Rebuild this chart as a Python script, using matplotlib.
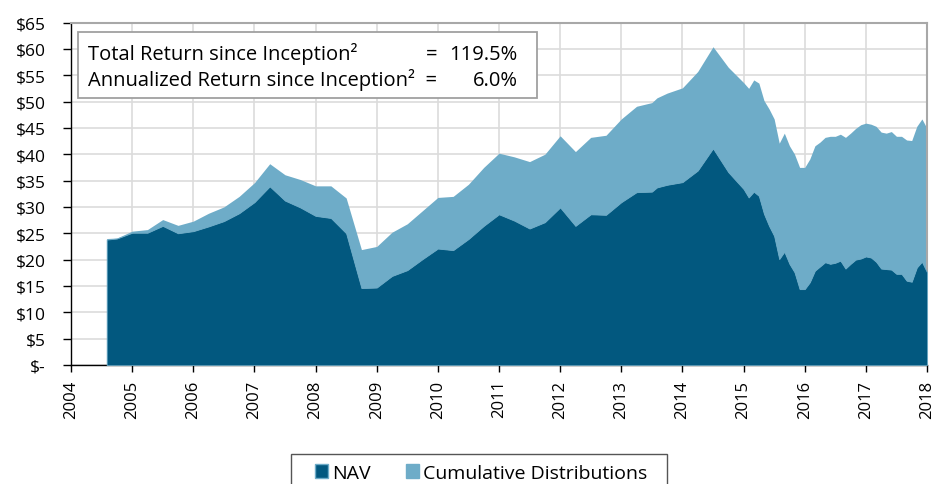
import numpy as np
import matplotlib.pyplot as plt
from matplotlib.patches import Patch, Rectangle

plt.rcParams['font.family'] = ['Open Sans', 'DejaVu Sans']

# month-end dates (YYYY-MM)
dates = ["2004-07", "2004-09", "2004-12",
         "2005-03", "2005-06", "2005-09", "2005-12",
         "2006-03", "2006-06", "2006-09", "2006-12",
         "2007-03", "2007-06", "2007-09", "2007-12",
         "2008-03", "2008-06", "2008-09", "2008-12",
         "2009-03", "2009-06", "2009-09", "2009-12",
         "2010-03", "2010-06", "2010-09", "2010-12",
         "2011-03", "2011-06", "2011-09", "2011-12",
         "2012-03", "2012-06", "2012-09", "2012-12",
         "2013-03", "2013-06", "2013-07", "2013-09", "2013-12",
         "2014-03", "2014-06", "2014-09", "2014-12",
         "2015-01", "2015-02", "2015-03", "2015-04", "2015-05", "2015-06",
         "2015-07", "2015-08", "2015-09", "2015-10", "2015-11", "2015-12",
         "2016-01", "2016-02", "2016-03", "2016-04", "2016-05", "2016-06",
         "2016-07", "2016-08", "2016-09", "2016-10", "2016-11", "2016-12",
         "2017-01", "2017-02", "2017-03", "2017-04", "2017-05", "2017-06",
         "2017-07", "2017-08", "2017-09", "2017-10", "2017-11", "2017-12"]

nav = [23.8, 24.0, 25.1,
       25.1, 26.4, 25.0, 25.4,
       26.3, 27.3, 28.8, 30.9,
       33.9, 31.2, 29.9, 28.3,
       27.9, 25.0, 14.6, 14.7,
       16.9, 18.0, 20.1, 22.1,
       21.8, 23.9, 26.4, 28.6,
       27.4, 25.9, 27.1, 29.9,
       26.4, 28.6, 28.5, 30.9,
       32.8, 32.9, 33.7, 34.2, 34.7,
       36.9, 41.1, 36.6, 33.4,
       31.8, 32.9, 32.1, 28.7, 26.4, 24.5,
       20.1, 21.5, 19.2, 17.6, 14.4, 14.4,
       15.7, 17.9, 18.7, 19.5, 19.2, 19.4,
       19.8, 18.3, 19.2, 20.0, 20.2, 20.6,
       20.4, 19.6, 18.3, 18.2, 18.1, 17.3,
       17.3, 16.0, 15.8, 18.5, 19.6, 17.6]

# NAV + cumulative distributions
total = [24.0, 24.1, 25.4,
         25.7, 27.6, 26.5, 27.3,
         28.8, 30.0, 32.0, 34.6,
         38.2, 36.1, 35.2, 34.0,
         34.0, 31.7, 21.9, 22.5,
         25.2, 26.8, 29.3, 31.8,
         32.0, 34.3, 37.5, 40.2,
         39.5, 38.6, 40.0, 43.5,
         40.5, 43.2, 43.6, 46.7,
         49.1, 49.8, 50.7, 51.6, 52.6,
         55.7, 60.4, 56.5, 53.6,
         52.5, 54.1, 53.5, 50.2, 48.6, 46.7,
         42.1, 44.0, 41.6, 40.0, 37.5, 37.5,
         39.1, 41.6, 42.3, 43.2, 43.4, 43.4,
         43.8, 43.2, 44.0, 44.9, 45.6, 45.9,
         45.7, 45.3, 44.2, 44.0, 44.3, 43.4,
         43.4, 42.7, 42.6, 45.3, 46.7, 44.9]

years = list(range(2004, 2019))
yticks = list(range(0, 70, 5))

dark = "#02587f"
light = "#6eacc8"

x = np.array([int(d[:4]) + int(d[5:]) / 12 for d in dates])

fig = plt.figure(figsize=(9.36, 4.85), dpi=100)
ax = fig.add_axes([71/936, 1 - 366/485, 856/936, 342.5/485])

ax.fill_between(x, nav, total, color=light, lw=0, zorder=2)
ax.fill_between(x, 0, nav, facecolor=dark, edgecolor=light, lw=0.6, zorder=3)

ax.set_xlim(2004, 2018)
ax.set_ylim(0, 65)
ax.set_xticks(years)
ax.set_xticklabels([str(y) for y in years], rotation=90, fontsize=12)
ax.set_yticks(yticks)
ax.set_yticklabels(["$-" if v == 0 else f"${v}" for v in yticks], fontsize=12.5)
ax.yaxis.set_tick_params(direction="out", length=6, width=1, pad=12)
ax.xaxis.set_tick_params(direction="out", length=5, width=1, pad=5.5)
ax.grid(True, color="#dcdcdc", lw=1.2, zorder=0)
ax.set_axisbelow(True)
for s in ["top", "right"]:
    ax.spines[s].set_color("#a8a8a8")
    ax.spines[s].set_linewidth(1.5)
for s in ["left", "bottom"]:
    ax.spines[s].set_color("black")
    ax.spines[s].set_linewidth(1)

# return box
ax.add_patch(Rectangle((0.008, 0.780), 0.536, 0.192, transform=ax.transAxes,
                       facecolor="white", edgecolor="#a0a0a0", lw=1.3, zorder=5))
ax.text(0.0199, 0.893, "Total Return since Inception²", transform=ax.transAxes,
        fontsize=14.5, va="baseline", zorder=6)
ax.text(0.414, 0.893, "=", transform=ax.transAxes, fontsize=14.5, va="baseline", zorder=6)
ax.text(0.522, 0.893, "119.5%", transform=ax.transAxes, fontsize=14.5,
        va="baseline", ha="right", zorder=6)
ax.text(0.0199, 0.818, "Annualized Return since Inception²  =", transform=ax.transAxes,
        fontsize=14.5, va="baseline", zorder=6)
ax.text(0.522, 0.818, "6.0%", transform=ax.transAxes, fontsize=14.5,
        va="baseline", ha="right", zorder=6)

# legend (frame drawn separately, runs off the bottom edge)
handles = [Patch(facecolor=dark, edgecolor=light, lw=1, label="NAV"),
           Patch(facecolor=light, edgecolor=light, label="Cumulative Distributions")]
fig.legend(handles=handles, loc="upper center", bbox_to_anchor=(481/936, 1 - 459/485),
           ncol=2, fontsize=14, frameon=False, handlelength=0.7,
           handleheight=0.7, handletextpad=0.2, columnspacing=1.8, borderpad=0.3,
           borderaxespad=0)
fig.add_artist(Rectangle((291/936, -0.1), 376/936, 30/485 + 0.1, transform=fig.transFigure,
                         fill=False, edgecolor="#555555", lw=1))

plt.savefig("out.png", dpi=100)
